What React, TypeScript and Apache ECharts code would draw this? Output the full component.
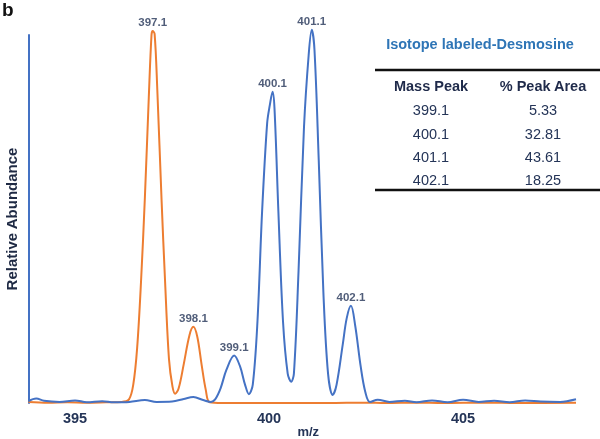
import React, { useEffect, useRef } from "react";
import * as echarts from "echarts";

const ORANGE = "#ED7D31";
const BLUE = "#4472C4";
const NAVY = "#243457";

// Orange trace (unlabeled desmosine): [m/z, relative abundance]
const orangeTrace: [number, number][] = [
  [393.8, 0.3], [394.3, 0.1], [394.8, 0.2], [395.3, 0.1], [395.8, 0.2], [396.2, 0.3],
  [396.39, 1], [396.5, 5], [396.6, 15], [396.7, 33], [396.8, 56], [396.9, 83],
  [396.97, 100], [397.0, 101.1], [397.05, 100.3], [397.12, 85], [397.23, 55],
  [397.32, 33], [397.42, 12], [397.51, 4.5], [397.58, 2.5], [397.67, 4], [397.8, 10.5],
  [397.95, 18.5], [398.05, 20.7], [398.15, 18], [398.26, 10.5], [398.37, 3.5],
  [398.47, 0.2], [398.8, 0], [399.5, 0], [400.5, 0], [401.5, 0], [402.5, 0.1],
  [403.0, 0], [403.8, 0.1], [404.5, 0], [405.5, 0.1], [406.5, 0], [407.91, 0.1],
];

// Blue trace (isotope labeled desmosine)
const blueTrace: [number, number][] = [
  [393.8, 0.5], [394.0, 1.2], [394.2, 0.6], [394.6, 0.3], [395.0, 0.7], [395.3, 0.2],
  [395.7, 0.5], [396.0, 0.2], [396.4, 0.3], [396.8, 0.8], [397.1, 0.3], [397.5, 0.4],
  [397.8, 1.1], [398.05, 1.6], [398.3, 0.8], [398.5, 0.3], [398.61, 1], [398.75, 4],
  [398.9, 9], [399.1, 12.9], [399.25, 10], [399.38, 5], [399.48, 2.4], [399.58, 5],
  [399.7, 22], [399.82, 52], [399.95, 76], [400.02, 81], [400.09, 84.6], [400.14, 80],
  [400.24, 52], [400.36, 22], [400.48, 8], [400.57, 5.8], [400.64, 8], [400.76, 36],
  [400.9, 75], [401.02, 94.5], [401.1, 101.4], [401.17, 96], [401.28, 66], [401.4, 30],
  [401.52, 8], [401.64, 2.2], [401.74, 5], [401.9, 16], [402.0, 23], [402.11, 26.4],
  [402.22, 21], [402.36, 10], [402.48, 3], [402.6, 0.3], [402.8, 0.9], [403.1, 0.3],
  [403.5, 0.6], [403.8, 0.2], [404.2, 0.7], [404.6, 0.2], [405.0, 0.9], [405.4, 0.3],
  [405.8, 0.6], [406.2, 0.2], [406.6, 0.7], [407.0, 0.4], [407.5, 0.3], [407.91, 1.0],
];

// Peak annotations: [m/z position, height, label]
const orangePeaks: [number, number, string][] = [
  [397.0, 101.1, "397.1"],
  [398.05, 20.7, "398.1"],
];
const bluePeaks: [number, number, string][] = [
  [399.1, 12.9, "399.1"],
  [400.09, 84.6, "400.1"],
  [401.1, 101.4, "401.1"],
  [402.11, 26.4, "402.1"],
];

const xTicks = [395, 400, 405];

// Table
const tableTitle = "Isotope labeled-Desmosine";
const tableHeaders = ["Mass Peak", "% Peak Area"];
const massPeaks = ["399.1", "400.1", "401.1", "402.1"];
const peakAreas = ["5.33", "32.81", "43.61", "18.25"];

const FONT = "Arial, 'Liberation Sans', sans-serif";

export default function App() {
  const ref = useRef<HTMLDivElement>(null);
  useEffect(() => {
    if (!ref.current) return;
    const chart = echarts.init(ref.current, null, { renderer: "svg" });

    const col1 = 431;
    const col2 = 543;
    const rowY = [110, 134, 157, 180];
    const graphics: any[] = [
      {
        type: "text", left: 2, top: 0,
        style: { text: "b", font: `bold 19px ${FONT}`, fill: "#111" },
      },
      {
        type: "text", x: 480, y: 44,
        style: { text: tableTitle, font: `bold 14.5px ${FONT}`, fill: "#2E75B6", align: "center", verticalAlign: "middle" },
      },
      { type: "line", shape: { x1: 375, y1: 70, x2: 600, y2: 70 }, style: { stroke: "#111", lineWidth: 2.5 } },
      { type: "line", shape: { x1: 375, y1: 190, x2: 600, y2: 190 }, style: { stroke: "#111", lineWidth: 2.5 } },
      {
        type: "text", x: col1, y: 86,
        style: { text: tableHeaders[0], font: `bold 14.5px ${FONT}`, fill: "#1F2A4A", align: "center", verticalAlign: "middle" },
      },
      {
        type: "text", x: col2, y: 86,
        style: { text: tableHeaders[1], font: `bold 14.5px ${FONT}`, fill: "#1F2A4A", align: "center", verticalAlign: "middle" },
      },
    ];
    massPeaks.forEach((m, i) => {
      graphics.push({
        type: "text", x: col1, y: rowY[i],
        style: { text: m, font: `14.5px ${FONT}`, fill: NAVY, align: "center", verticalAlign: "middle" },
      });
      graphics.push({
        type: "text", x: col2, y: rowY[i],
        style: { text: peakAreas[i], font: `14.5px ${FONT}`, fill: NAVY, align: "center", verticalAlign: "middle" },
      });
    });

    const peakLabelSeries = (peaks: [number, number, string][]) => ({
      type: "scatter",
      symbolSize: 0,
      silent: true,
      clip: false,
      data: peaks.map((p) => ({ value: [p[0], p[1]], name: p[2] })),
      label: {
        show: true,
        position: "top",
        distance: 3,
        formatter: (p: any) => p.name,
        color: NAVY,
        fontWeight: "bold",
        fontSize: 11.5,
        fontFamily: FONT,
      },
      z: 5,
    });

    chart.setOption({
      animation: false,
      grid: {
        left: 28.5,
        right: 24,
        top: 35,
        bottom: 36,
        containLabel: false,
        outerBoundsMode: "none",
      },
      xAxis: {
        type: "value",
        min: 393.8,
        max: 407.91,
        axisLine: { show: false },
        axisTick: { show: false },
        splitLine: { show: false },
        axisLabel: {
          customValues: xTicks,
          color: NAVY,
          fontWeight: "bold",
          fontSize: 14.5,
          fontFamily: FONT,
          margin: 7,
        },
        name: "m/z",
        nameLocation: "middle",
        nameGap: 22,
        nameMoveOverlap: false,
        nameTextStyle: {
          color: NAVY, fontWeight: "bold", fontSize: 13, fontFamily: FONT,
          lineHeight: 13, padding: [0, 0, 0, 12],
        },
      },
      yAxis: {
        type: "value",
        min: 0,
        max: 100,
        axisLine: { show: true, lineStyle: { color: BLUE, width: 2 } },
        axisTick: { show: false },
        axisLabel: { show: false },
        splitLine: { show: false },
        name: "Relative Abundance",
        nameLocation: "middle",
        nameGap: 10,
        nameMoveOverlap: false,
        nameTextStyle: { color: "#1F2A44", fontWeight: "bold", fontSize: 15, fontFamily: FONT },
      },
      series: [
        {
          type: "line",
          data: orangeTrace,
          smooth: 0.35,
          symbol: "none",
          clip: false,
          lineStyle: { color: ORANGE, width: 2 },
          z: 2,
        },
        {
          type: "line",
          data: blueTrace,
          smooth: 0.35,
          symbol: "none",
          clip: false,
          lineStyle: { color: BLUE, width: 2 },
          z: 3,
        },
        peakLabelSeries(orangePeaks),
        peakLabelSeries(bluePeaks),
      ],
      graphic: graphics,
    });

    return () => chart.dispose();
  }, []);

  return (
    <div
      ref={ref}
      style={{ position: "fixed", left: 0, top: 0, width: 600, height: 439 }}
    />
  );
}
